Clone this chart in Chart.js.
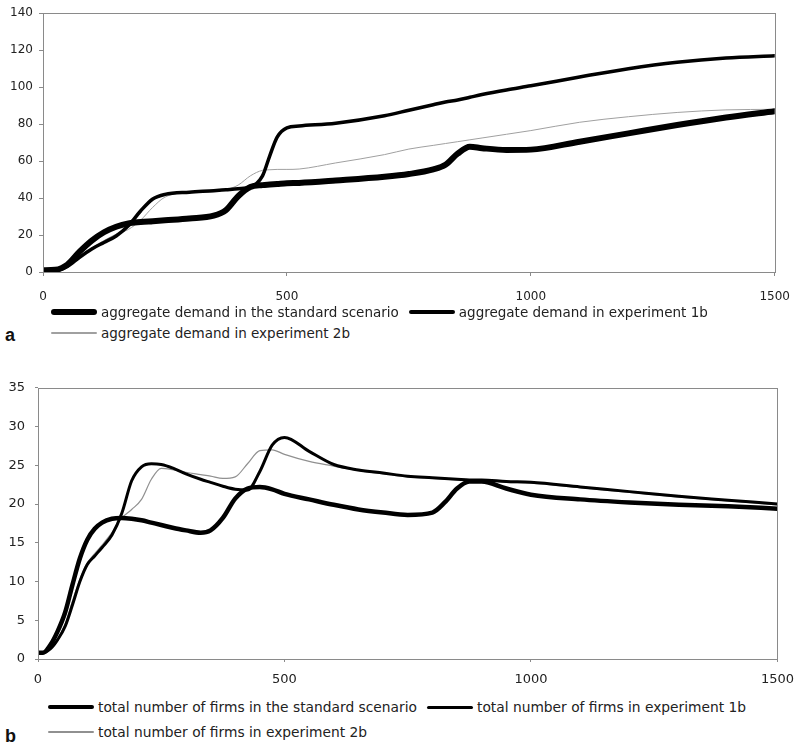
<!DOCTYPE html>
<html><head><meta charset="utf-8">
<script src="https://cdn.jsdelivr.net/npm/chart.js@4.4.1/dist/chart.umd.min.js"></script>
<style>
html,body{margin:0;padding:0;background:#fff;}
body{width:804px;height:745px;position:relative;overflow:hidden;}
.wrap{position:absolute;left:0;width:804px;}
.legrow{position:absolute;display:flex;align-items:center;white-space:pre;color:#222;height:18px;}
.item{display:flex;align-items:center;}
.sample{display:inline-block;width:46px;margin-right:4px;border-radius:3px;}
.panel{position:absolute;font:bold 18px "Liberation Sans",Arial,sans-serif;color:#111;line-height:20px;}
</style></head><body>
<div class="wrap" style="top:0;height:305px"><canvas id="chartA"></canvas></div>
<div id="legendA"></div>
<div class="panel" style="left:5px;top:325px">a</div>
<div class="wrap" style="top:370px;height:325px"><canvas id="chartB"></canvas></div>
<div id="legendB"></div>
<div class="panel" style="left:5px;top:726px">b</div>
<script>
// ---------- Panel a: aggregate demand ----------
const demandSteps = [0,25,50,75,100,125,150,175,200,225,250,300,350,375,400,425,450,465,480,500,525,600,700,750,800,825,850,875,900,950,1000,1100,1200,1300,1400,1500];
const demandStandard = [1,1.2,4,11,17,21.5,24.5,26.3,27,27.5,28,29,30.5,33.5,41,46,47,47.3,47.6,48,48.2,49.5,51.5,53,55.5,58,64,67.8,67,66,66.2,70.5,75,79.5,83.6,87];
const demand1b = [0.5,0.7,3,8,12.5,16,19.5,25,33,39.5,42,43.2,44,44.5,45,46,52,63,73,78,79,80.5,84.5,87.5,90.5,92,93,94.5,96,98.5,100.7,105.5,110,113.5,115.8,117];
const demand2b = [0.5,0.7,3,8.5,13,17,20.5,23,28,35,40.5,43,43.5,44.5,47,52,55,55.3,55.5,55.5,55.7,59,63.5,66.5,68.5,69.5,70.5,71.5,72.5,74.5,76.5,81,84,86.3,87.7,88];
const demandLabels = ["aggregate demand in the standard scenario","aggregate demand in experiment 1b","aggregate demand in experiment 2b"];
const demandYTicks = [0,20,40,60,80,100,120,140];

// ---------- Panel b: total number of firms ----------
const firmSteps = [0,10,25,40,55,70,85,100,115,130,150,170,190,210,230,250,275,300,330,350,375,400,425,450,475,500,550,600,650,700,750,800,825,850,875,900,950,1000,1100,1200,1300,1400,1500];
const firmsStandard = [0.8,0.8,1.8,3.6,6,9.6,13,15.4,16.8,17.6,18.1,18.2,18.1,17.9,17.6,17.3,16.9,16.6,16.3,16.6,18.2,20.7,22,22.2,21.9,21.3,20.6,19.9,19.3,18.9,18.6,18.9,20.2,22,22.9,22.9,22,21.2,20.6,20.2,19.9,19.7,19.4];
const firms1b = [0.8,0.8,1.3,2.5,4.2,7,10,12.2,13.3,14.4,16,18.8,23,24.8,25.2,25.1,24.6,23.9,23.2,22.8,22.3,21.9,21.8,24.2,27.6,28.6,26.8,25.1,24.4,24,23.6,23.4,23.3,23.2,23.1,23.1,22.9,22.8,22.2,21.6,21,20.5,20];
const firms2b = [0.8,0.8,1.3,2.6,4.5,7.5,10.3,12.4,13.6,14.7,16.3,18.2,19.3,20.6,23.2,24.6,24.4,24.1,23.8,23.6,23.3,23.5,25.2,26.9,27,26.4,25.5,24.9,24.3,23.9,23.5,23.3,23.2,23.1,23,23,22.8,22.7,22.1,21.5,20.9,20.4,19.9];
const firmLabels = ["total number of firms in the standard scenario","total number of firms in experiment 1b","total number of firms in experiment 2b"];
const firmYTicks = [0,5,10,15,20,25,30,35];

const xTicks = [0,500,1000,1500];

function pts(xs, ys){ return xs.map((x,i)=>({x:x, y:ys[i]})); }

const frame = {
  id:'frame',
  afterDraw(chart){
    const a = chart.chartArea, c = chart.ctx;
    c.save();
    c.strokeStyle = '#8a8a8a';
    c.lineWidth = 1;
    c.strokeRect(Math.round(a.left)+0.5, Math.round(a.top)+0.5, Math.round(a.right-a.left), Math.round(a.bottom-a.top));
    c.restore();
  }
};

function makeChart(id, cfg){
  return new Chart(document.getElementById(id), {
    type:'line',
    data:{datasets: cfg.datasets},
    options:{
      responsive:true, maintainAspectRatio:false, animation:false,
      layout:{padding:cfg.padding},
      plugins:{legend:{display:false}, tooltip:{enabled:false}},
      elements:{point:{radius:0}, line:{cubicInterpolationMode:'monotone', borderJoinStyle:'round', borderCapStyle:'round'}},
      scales:{
        x:{type:'linear', min:0, max:1500,
           afterBuildTicks(s){ s.ticks = xTicks.map(v=>({value:v})); },
           afterFit(s){ s.height = cfg.xHeight; },
           grid:{display:true, drawOnChartArea:false, drawTicks:true, tickLength:cfg.tick, color:'#8a8a8a'},
           border:{display:false},
           ticks:{color:'#222', font:{family:'DejaVu Sans', size:cfg.font}, padding:cfg.xPad, maxRotation:0, autoSkip:false,
                  callback:(v)=>String(v)}},
        y:{type:'linear', min:0, max:cfg.yMax,
           afterBuildTicks(s){ s.ticks = cfg.yTicks.map(v=>({value:v})); },
           afterFit(s){ s.width = cfg.yWidth; },
           grid:{display:true, drawOnChartArea:false, drawTicks:true, tickLength:cfg.tick, color:'#8a8a8a'},
           border:{display:false},
           ticks:{color:'#222', font:{family:'DejaVu Sans', size:cfg.font}, padding:cfg.yPad, callback:(v)=>String(v)}}
      }
    },
    plugins:[frame]
  });
}

const chartA = makeChart('chartA', {
  datasets:[
    {label:demandLabels[0], data:pts(demandSteps, demandStandard), borderColor:'#000', borderWidth:6},
    {label:demandLabels[1], data:pts(demandSteps, demand1b), borderColor:'#000', borderWidth:3.5},
    {label:demandLabels[2], data:pts(demandSteps, demand2b), borderColor:'#a0a0a0', borderWidth:1}
  ],
  padding:{top:11, right:22, left:0, bottom:0},
  xHeight:33, yWidth:43, yMax:140, yTicks:demandYTicks, font:12, tick:4, xPad:14, yPad:6
});

const chartB = makeChart('chartB', {
  datasets:[
    {label:firmLabels[0], data:pts(firmSteps, firmsStandard), borderColor:'#000', borderWidth:4.5},
    {label:firmLabels[1], data:pts(firmSteps, firms1b), borderColor:'#000', borderWidth:3},
    {label:firmLabels[2], data:pts(firmSteps, firms2b), borderColor:'#909090', borderWidth:1.2}
  ],
  padding:{top:14, right:20, left:0, bottom:0},
  xHeight:36, yWidth:38, yMax:35, yTicks:firmYTicks, font:13, tick:3, xPad:10, yPad:10
});

function buildLegend(chart, containerId, rows, opts){
  const box = document.getElementById(containerId);
  rows.forEach((row, r)=>{
    const rowDiv = document.createElement('div');
    rowDiv.className = 'legrow';
    rowDiv.style.left = opts.left + 'px';
    rowDiv.style.top = opts.tops[r] + 'px';
    rowDiv.style.font = opts.font;
    row.forEach((idx, k)=>{
      const ds = chart.data.datasets[idx];
      const item = document.createElement('span');
      item.className = 'item';
      if (k > 0) item.style.marginLeft = opts.gap + 'px';
      const sample = document.createElement('span');
      sample.className = 'sample';
      sample.style.height = Math.max(1.5, ds.borderWidth) + 'px';
      sample.style.background = ds.borderColor;
      const txt = document.createElement('span');
      txt.textContent = ds.label;
      item.appendChild(sample); item.appendChild(txt);
      rowDiv.appendChild(item);
    });
    box.appendChild(rowDiv);
  });
}
buildLegend(chartA, 'legendA', [[0,1],[2]], {left:51, tops:[303,324], gap:10, font:'13.5px "DejaVu Sans", sans-serif'});
buildLegend(chartB, 'legendB', [[0,1],[2]], {left:48, tops:[698,723], gap:10, font:'13.8px "DejaVu Sans", sans-serif'});
</script>
</body></html>
